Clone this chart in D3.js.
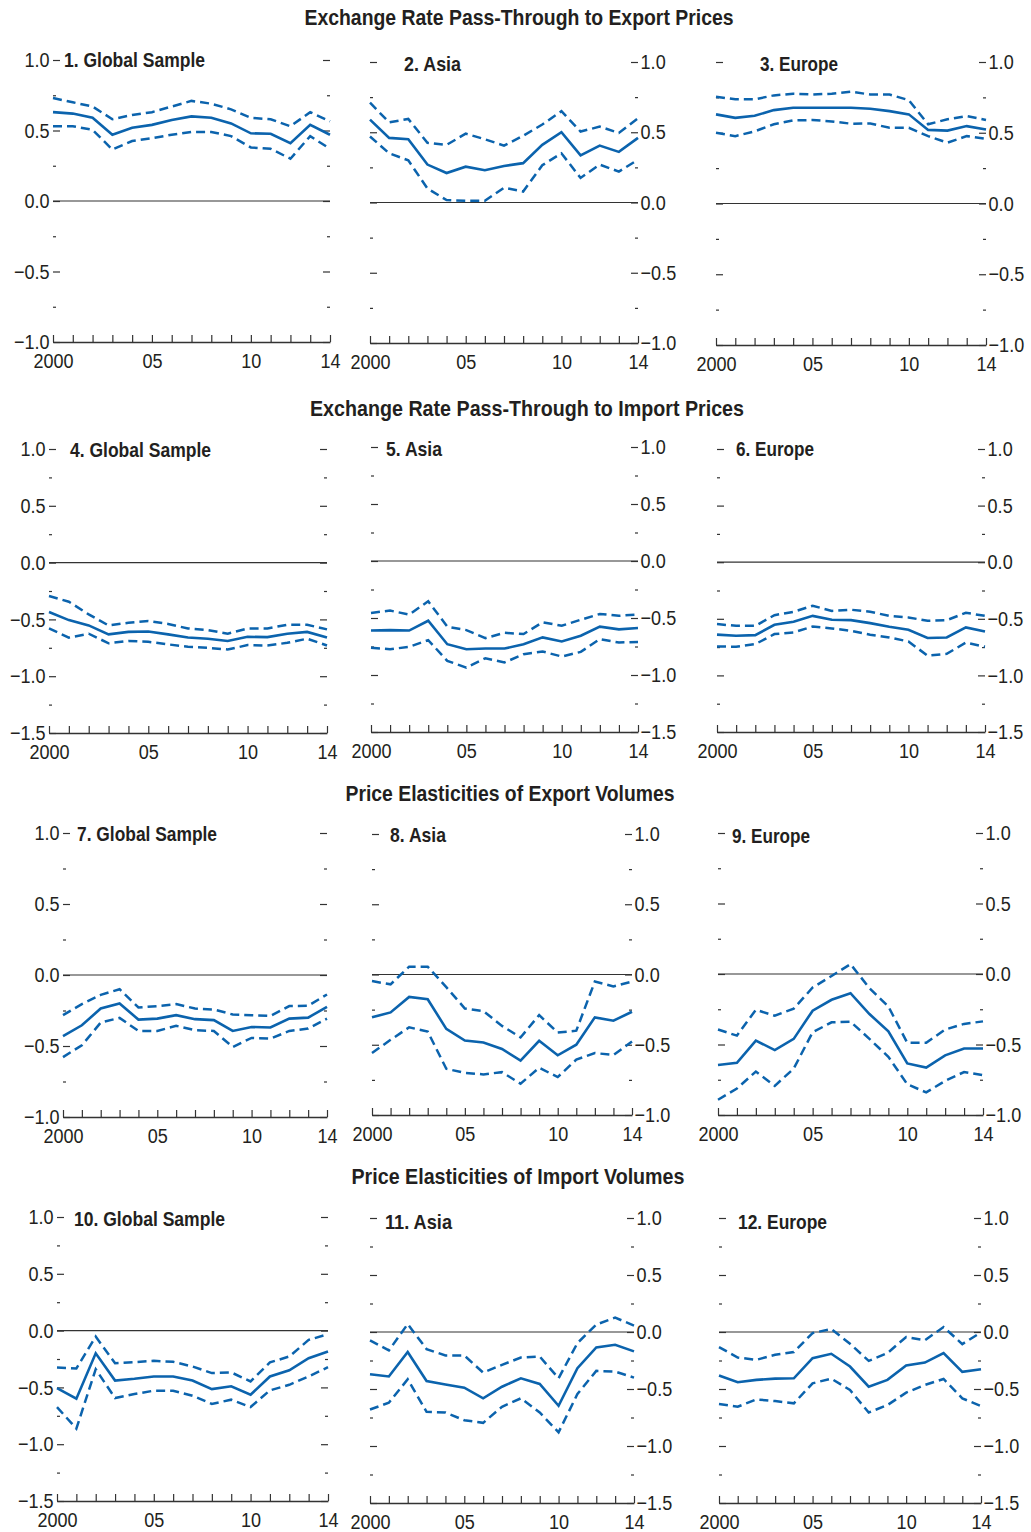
<!DOCTYPE html>
<html>
<head>
<meta charset="utf-8">
<script src="https://cdn.jsdelivr.net/npm/d3@7"></script>
<style>
  body { margin: 0; background: #fff; }
  svg text { font-family: 'Liberation Sans', Arial, sans-serif; fill: #231f20; }
</style>
</head>
<body>
<script>
// years on the x axis
const years = [2000, 2001, 2002, 2003, 2004, 2005, 2006, 2007, 2008, 2009, 2010, 2011, 2012, 2013, 2014];
const yearLabels = { 2000: '2000', 2005: '05', 2010: '10', 2014: '14' };

const rowTitles = [
  'Exchange Rate Pass-Through to Export Prices',
  'Exchange Rate Pass-Through to Import Prices',
  'Price Elasticities of Export Volumes',
  'Price Elasticities of Import Volumes',
];
const panelTitles = [
  '1. Global Sample', '2. Asia', '3. Europe',
  '4. Global Sample', '5. Asia', '6. Europe',
  '7. Global Sample', '8. Asia', '9. Europe',
  '10. Global Sample', '11. Asia', '12. Europe',
];
const rowDomains = [[-1, 1], [-1.5, 1], [-1, 1], [-1.5, 1]];

// 1. ERPT export prices, global
const p1Mid = [0.63, 0.62, 0.59, 0.47, 0.52, 0.54, 0.575, 0.60, 0.59, 0.55, 0.48, 0.477, 0.41, 0.54, 0.47];
const p1Hi  = [0.73, 0.70, 0.67, 0.58, 0.61, 0.63, 0.67, 0.71, 0.69, 0.65, 0.59, 0.58, 0.53, 0.63, 0.565];
const p1Lo  = [0.53, 0.53, 0.505, 0.365, 0.425, 0.445, 0.47, 0.49, 0.49, 0.46, 0.38, 0.37, 0.30, 0.46, 0.37];
// 2. ERPT export prices, Asia
const p2Mid = [0.59, 0.46, 0.45, 0.27, 0.21, 0.255, 0.23, 0.26, 0.28, 0.41, 0.50, 0.335, 0.405, 0.36, 0.46];
const p2Hi  = [0.71, 0.57, 0.595, 0.425, 0.41, 0.49, 0.45, 0.405, 0.475, 0.555, 0.65, 0.505, 0.54, 0.495, 0.60];
const p2Lo  = [0.47, 0.35, 0.30, 0.10, 0.017, 0.012, 0.012, 0.105, 0.078, 0.265, 0.35, 0.175, 0.27, 0.22, 0.305];
// 3. ERPT export prices, Europe
const p3Mid = [0.63, 0.605, 0.62, 0.66, 0.677, 0.677, 0.677, 0.677, 0.67, 0.653, 0.63, 0.52, 0.515, 0.547, 0.523];
const p3Hi  = [0.755, 0.736, 0.736, 0.764, 0.776, 0.77, 0.776, 0.79, 0.77, 0.77, 0.73, 0.56, 0.595, 0.618, 0.59];
const p3Lo  = [0.50, 0.476, 0.51, 0.56, 0.587, 0.59, 0.58, 0.564, 0.566, 0.535, 0.535, 0.476, 0.43, 0.476, 0.457];
// 4. ERPT import prices, global
const p4Mid = [-0.435, -0.506, -0.553, -0.632, -0.61, -0.606, -0.632, -0.66, -0.67, -0.69, -0.653, -0.656, -0.626, -0.61, -0.66];
const p4Hi  = [-0.294, -0.344, -0.456, -0.553, -0.53, -0.515, -0.54, -0.58, -0.594, -0.626, -0.58, -0.58, -0.547, -0.547, -0.588];
const p4Lo  = [-0.58, -0.66, -0.626, -0.71, -0.69, -0.697, -0.72, -0.74, -0.75, -0.765, -0.726, -0.73, -0.706, -0.67, -0.73];
// 5. ERPT import prices, Asia
const p5Mid = [-0.61, -0.606, -0.61, -0.524, -0.73, -0.774, -0.768, -0.768, -0.73, -0.67, -0.706, -0.656, -0.576, -0.60, -0.588];
const p5Hi  = [-0.456, -0.435, -0.47, -0.353, -0.576, -0.606, -0.676, -0.63, -0.64, -0.538, -0.568, -0.515, -0.465, -0.48, -0.47];
const p5Lo  = [-0.76, -0.774, -0.753, -0.694, -0.876, -0.935, -0.853, -0.89, -0.818, -0.794, -0.838, -0.797, -0.685, -0.715, -0.71];
// 6. ERPT import prices, Europe
const p6Mid = [-0.64, -0.65, -0.644, -0.553, -0.526, -0.474, -0.509, -0.512, -0.538, -0.57, -0.597, -0.67, -0.665, -0.576, -0.612];
const p6Hi  = [-0.547, -0.562, -0.562, -0.468, -0.438, -0.385, -0.43, -0.42, -0.438, -0.474, -0.488, -0.518, -0.512, -0.447, -0.474];
const p6Lo  = [-0.744, -0.747, -0.724, -0.635, -0.62, -0.568, -0.585, -0.606, -0.64, -0.665, -0.70, -0.826, -0.81, -0.71, -0.747];
// 7. export volume elasticities, global
const p7Mid = [-0.43, -0.354, -0.236, -0.20, -0.314, -0.307, -0.283, -0.311, -0.318, -0.394, -0.366, -0.37, -0.307, -0.30, -0.224];
const p7Hi  = [-0.283, -0.205, -0.14, -0.10, -0.229, -0.219, -0.205, -0.236, -0.243, -0.278, -0.283, -0.288, -0.219, -0.217, -0.137];
const p7Lo  = [-0.578, -0.495, -0.335, -0.302, -0.394, -0.394, -0.358, -0.389, -0.394, -0.507, -0.443, -0.448, -0.394, -0.377, -0.307];
// 8. export volume elasticities, Asia
const p8Mid = [-0.305, -0.27, -0.16, -0.176, -0.387, -0.47, -0.484, -0.53, -0.613, -0.472, -0.575, -0.50, -0.305, -0.329, -0.265];
const p8Hi  = [-0.047, -0.07, 0.056, 0.056, -0.09, -0.242, -0.26, -0.366, -0.448, -0.289, -0.413, -0.40, -0.05, -0.085, -0.05];
const p8Lo  = [-0.559, -0.465, -0.376, -0.406, -0.671, -0.70, -0.711, -0.695, -0.777, -0.664, -0.73, -0.606, -0.559, -0.573, -0.477];
// 9. export volume elasticities, Europe
const p9Mid = [-0.645, -0.63, -0.472, -0.54, -0.46, -0.26, -0.183, -0.136, -0.284, -0.406, -0.634, -0.664, -0.577, -0.528, -0.528];
const p9Hi  = [-0.394, -0.437, -0.254, -0.296, -0.246, -0.096, -0.014, 0.07, -0.10, -0.23, -0.488, -0.488, -0.394, -0.354, -0.336];
const p9Lo  = [-0.892, -0.812, -0.692, -0.793, -0.671, -0.413, -0.343, -0.338, -0.46, -0.587, -0.782, -0.84, -0.758, -0.695, -0.718];
// 10. import volume elasticities, global
const p10Mid = [-0.506, -0.60, -0.20, -0.44, -0.424, -0.404, -0.404, -0.44, -0.515, -0.49, -0.565, -0.404, -0.35, -0.243, -0.184];
const p10Hi  = [-0.325, -0.333, -0.053, -0.287, -0.278, -0.266, -0.275, -0.316, -0.374, -0.368, -0.447, -0.28, -0.228, -0.082, -0.032];
const p10Lo  = [-0.673, -0.863, -0.34, -0.594, -0.558, -0.529, -0.529, -0.573, -0.646, -0.608, -0.673, -0.526, -0.477, -0.404, -0.322];
// 11. import volume elasticities, Asia
const p11Mid = [-0.37, -0.39, -0.176, -0.43, -0.46, -0.488, -0.582, -0.48, -0.406, -0.456, -0.647, -0.318, -0.135, -0.112, -0.17];
const p11Hi  = [-0.073, -0.162, 0.07, -0.15, -0.206, -0.206, -0.356, -0.288, -0.224, -0.215, -0.406, -0.097, 0.065, 0.126, 0.056];
const p11Lo  = [-0.68, -0.62, -0.415, -0.70, -0.706, -0.774, -0.797, -0.656, -0.582, -0.706, -0.88, -0.544, -0.341, -0.347, -0.40];
// 12. import volume elasticities, Europe
const p12Mid = [-0.382, -0.441, -0.42, -0.409, -0.406, -0.23, -0.191, -0.303, -0.48, -0.42, -0.294, -0.268, -0.185, -0.35, -0.326];
const p12Hi  = [-0.132, -0.224, -0.244, -0.20, -0.176, -0.009, 0.026, -0.103, -0.253, -0.185, -0.044, -0.073, 0.044, -0.106, -0.003];
const p12Lo  = [-0.632, -0.656, -0.591, -0.606, -0.626, -0.45, -0.409, -0.509, -0.706, -0.641, -0.532, -0.465, -0.412, -0.582, -0.65];

const panels = [
  [p1Mid, p1Hi, p1Lo], [p2Mid, p2Hi, p2Lo], [p3Mid, p3Hi, p3Lo],
  [p4Mid, p4Hi, p4Lo], [p5Mid, p5Hi, p5Lo], [p6Mid, p6Hi, p6Lo],
  [p7Mid, p7Hi, p7Lo], [p8Mid, p8Hi, p8Lo], [p9Mid, p9Hi, p9Lo],
  [p10Mid, p10Hi, p10Lo], [p11Mid, p11Hi, p11Lo], [p12Mid, p12Hi, p12Lo],
];

// layout: plot box per panel (l, r, t = top of y range, b = baseline), title spot
const frames = [
  { l: 53, r: 330, t: 60, b: 342, tx: 64, ty: 60, tw: 141 },
  { l: 370, r: 638, t: 62, b: 343, tx: 404, ty: 64, tw: 57 },
  { l: 716, r: 986, t: 62, b: 345, tx: 760, ty: 64, tw: 78 },
  { l: 49, r: 327, t: 449, b: 733, tx: 70, ty: 450, tw: 141 },
  { l: 371, r: 638, t: 447, b: 732, tx: 386, ty: 449, tw: 56 },
  { l: 717, r: 985, t: 449, b: 732, tx: 736, ty: 449, tw: 78 },
  { l: 63, r: 327, t: 833, b: 1117, tx: 77, ty: 834, tw: 140 },
  { l: 372, r: 632, t: 834, b: 1115, tx: 390, ty: 835, tw: 56 },
  { l: 718, r: 983, t: 833, b: 1115, tx: 732, ty: 836, tw: 78 },
  { l: 57, r: 328, t: 1217, b: 1501, tx: 74, ty: 1219, tw: 151 },
  { l: 370, r: 634, t: 1218, b: 1503, tx: 385, ty: 1222, tw: 67 },
  { l: 719, r: 981, t: 1218, b: 1503, tx: 738, ty: 1222, tw: 89 },
];
const titleSpots = [
  { x: 519, y: 17, w: 429 },
  { x: 527, y: 408, w: 434 },
  { x: 510, y: 793, w: 329 },
  { x: 518, y: 1176, w: 333 },
];

const blue = '#0b63ad';
const ink = '#333';
const fmt = d3.format('.1f');
const labelSize = 21;
const labelSquash = 'scale(0.86,1)';

const svg = d3.select('body').append('svg')
  .attr('width', 1031)
  .attr('height', 1532);

rowTitles.forEach((t, i) => {
  const s = titleSpots[i];
  svg.append('text')
    .attr('x', s.x - s.w / 2)
    .attr('y', s.y + 8)
    .attr('font-size', 22)
    .attr('font-weight', 'bold')
    .attr('textLength', s.w)
    .attr('lengthAdjust', 'spacingAndGlyphs')
    .text(t);
});

function styleAxis(a) {
  a.attr('font-family', null).attr('font-size', labelSize);
  a.select('.domain').remove();
  a.selectAll('line').attr('stroke', ink).attr('stroke-width', 1.2);
  a.selectAll('text').attr('fill', '#231f20').attr('transform', labelSquash);
}

panels.forEach(([mid, hi, lo], i) => {
  const f = frames[i];
  const row = Math.floor(i / 3);
  const col = i % 3;
  const [ymin, ymax] = rowDomains[row];

  const x = d3.scaleLinear().domain([2000, 2014]).range([f.l, f.r]);
  const y = d3.scaleLinear().domain([ymin, ymax]).range([f.b, f.t]);
  const g = svg.append('g');

  const major = d3.range(ymin, ymax + 0.01, 0.5);
  const minor = d3.range(ymin + 0.25, ymax, 0.5);

  // left side ticks
  g.append('g').attr('transform', `translate(${f.l},0)`)
    .call(d3.axisLeft(y).tickValues(major).tickSizeInner(-7).tickSizeOuter(0)
      .tickPadding(4).tickFormat(col === 0 ? fmt : () => ''))
    .call(styleAxis);
  g.append('g').attr('transform', `translate(${f.l},0)`)
    .call(d3.axisLeft(y).tickValues(minor).tickSizeInner(-3).tickSizeOuter(0).tickFormat(() => ''))
    .call(styleAxis);

  // right side ticks
  g.append('g').attr('transform', `translate(${f.r},0)`)
    .call(d3.axisRight(y).tickValues(major).tickSizeInner(-7).tickSizeOuter(0)
      .tickPadding(3).tickFormat(col === 0 ? () => '' : fmt))
    .call(styleAxis);
  g.append('g').attr('transform', `translate(${f.r},0)`)
    .call(d3.axisRight(y).tickValues(minor).tickSizeInner(-3).tickSizeOuter(0).tickFormat(() => ''))
    .call(styleAxis);

  // x axis along the bottom
  const xa = g.append('g').attr('transform', `translate(0,${f.b})`)
    .call(d3.axisBottom(x).tickValues(years).tickSizeInner(-7).tickSizeOuter(0)
      .tickPadding(11).tickFormat(d => yearLabels[d] || ''));
  xa.attr('font-family', null).attr('font-size', labelSize);
  xa.select('.domain').attr('stroke', ink).attr('stroke-width', 1.5);
  xa.selectAll('line').attr('stroke', ink).attr('stroke-width', 1.2);
  xa.selectAll('text').attr('fill', '#231f20').attr('transform', labelSquash);

  // zero line
  g.append('line')
    .attr('x1', f.l).attr('x2', f.r)
    .attr('y1', y(0)).attr('y2', y(0))
    .attr('stroke', ink).attr('stroke-width', 1.2);

  const line = d3.line().x((d, j) => x(years[j])).y(d => y(d));

  [hi, lo].forEach(s => {
    g.append('path').datum(s)
      .attr('d', line)
      .attr('fill', 'none')
      .attr('stroke', blue)
      .attr('stroke-width', 2.5)
      .attr('stroke-dasharray', '9,5');
  });
  g.append('path').datum(mid)
    .attr('d', line)
    .attr('fill', 'none')
    .attr('stroke', blue)
    .attr('stroke-width', 2.6);

  // panel title
  g.append('text')
    .attr('x', f.tx)
    .attr('y', f.ty + 7)
    .attr('font-size', 21)
    .attr('font-weight', 'bold')
    .attr('textLength', f.tw)
    .attr('lengthAdjust', 'spacingAndGlyphs')
    .text(panelTitles[i]);
});
</script>
</body>
</html>
